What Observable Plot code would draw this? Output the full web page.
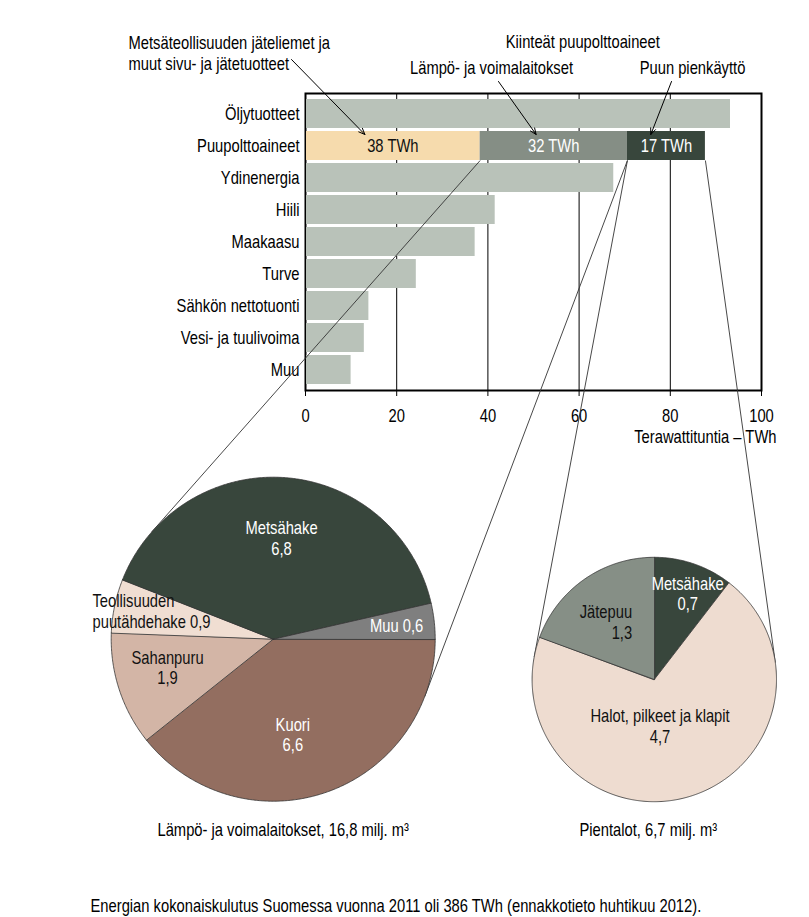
<!DOCTYPE html>
<html><head><meta charset="utf-8">
<script src="https://cdn.jsdelivr.net/npm/d3@7"></script>
<script src="https://cdn.jsdelivr.net/npm/@observablehq/plot@0.6"></script>
<style>
body{margin:0;background:#fff;}
#wrap{position:relative;width:809px;height:917px;}
#wrap svg{position:absolute;left:0;top:0;}
</style></head><body><div id="wrap"></div>
<script>
// ---------- DATA ----------
const categories = ["Öljytuotteet","Puupolttoaineet","Ydinenergia","Hiili","Maakaasu","Turve","Sähkön nettotuonti","Vesi- ja tuulivoima","Muu"];
const energyTWh = [93.2, 87.7, 67.6, 41.6, 37.2, 24.3, 13.9, 12.9, 10.0];
const woodParts = ["Metsäteollisuuden jäteliemet ja muut sivu- ja jätetuotteet","Lämpö- ja voimalaitokset","Puun pienkäyttö"];
const woodTWh = [38.3, 32.3, 17.1];
const xTicks = [0, 20, 40, 60, 80, 100];
const plantNames = ["Kuori","Sahanpuru","Teollisuuden\npuutähdehake","Metsähake","Muu"];
const plantValues = [6.6, 1.9, 0.9, 6.8, 0.6];
const houseNames = ["Metsähake","Halot, pilkeet ja klapit","Jätepuu"];
const houseValues = [0.7, 4.7, 1.3];
const axisTitle = "Terawattituntia – TWh";
const captionText = "Energian kokonaiskulutus Suomessa vuonna 2011 oli 386 TWh (ennakkotieto huhtikuu 2012).";
const annotTexts = ["Metsäteollisuuden jäteliemet ja\nmuut sivu- ja jätetuotteet","Lämpö- ja voimalaitokset","Puun pienkäyttö"];
const headerText = "Kiinteät puupolttoaineet";

// ---------- STYLE / LAYOUT ----------
const FONT = "'Liberation Sans Narrow','Arial Narrow','Liberation Sans',Arial,sans-serif";
const FS = 18;
const NARROW = 0.82; // horizontal condensing of glyphs (narrow face look)
const W = 809, H = 917;
const barGray = "#b9c2b9";
const woodFill = ["#f6dbad", "#858e85", "#38463c"];
const woodInk = ["#111", "#fff", "#fff"];
const plantFill = ["#936e60", "#d3b5a6", "#f0ded2", "#38463c", "#7f7f7f"];
const plantInk = ["#fff", "#111", "#111", "#fff", "#fff"];
const plantSep = ["\n", "\n", " ", "\n", " "];
const plantLab = [[0.554, 0.60, "middle"], [0.58, 0.675, "middle"], [0.35, 1.129, "start"], [0.503, 0.627, "middle"], [0.52, 0.766, "middle"]];
const houseFill = ["#38463c", "#eedcd0", "#868f86"];
const houseInk = ["#fff", "#111", "#111"];
const houseLab = [[0.564, 0.755, "middle"], [0.536, 0.383, "middle"], [0.70, 0.507, "end"]];

const fmt = v => v.toFixed(1).replace(".", ",");

// ---------- BAR CHART ----------
const barRows = categories.map((c, i) => ({category: c, value: energyTWh[i]})).filter(d => d.category !== "Puupolttoaineet");
const wood = woodParts.map((p, i) => ({part: p, value: woodTWh[i], category: "Puupolttoaineet", i}));

const chart = Plot.plot({
  width: W, height: H,
  marginLeft: 305, marginRight: 48, marginTop: 93, marginBottom: 527,
  style: {fontFamily: FONT, fontSize: FS + "px", background: "transparent", overflow: "visible"},
  x: {domain: [0, 100], axis: null},
  y: {domain: categories, axis: null, paddingInner: 0.084, paddingOuter: 0.182},
  color: {type: "identity"},
  marks: [
    Plot.ruleX(xTicks.slice(1, -1), {stroke: "#000", strokeWidth: 1}),
    Plot.frame({stroke: "#000", strokeWidth: 2}),
    Plot.barX(barRows, {x: "value", y: "category", fill: barGray}),
    Plot.barX(wood, Plot.stackX({x: "value", y: "category", fill: d => woodFill[d.i]})),
    Plot.ruleX([0], {stroke: "#000", strokeWidth: 1}),
    Plot.text(wood, Plot.stackX({x: "value", y: "category", text: d => `${Math.round(d.value)} TWh`, fill: d => woodInk[d.i], fontSize: FS})),
    Plot.axisX({ticks: xTicks, tickSize: 6, tickPadding: 13, fontSize: FS, label: null, anchor: "bottom", tickFormat: d => String(d)}),
    Plot.axisY({tickSize: 0, tickPadding: 6, fontSize: FS, label: null}),
    Plot.text([axisTitle], {x: () => 100, frameAnchor: "bottom", dy: 52, dx: 15, textAnchor: "end", fontSize: FS, text: d => d})
  ]
});

// ---------- OVERLAY (pies, connectors, annotations) ----------
const xs = chart.scale("x"), ys = chart.scale("y");
const bandTop = ys.apply("Puupolttoaineet");
const bandBottom = bandTop + ys.bandwidth;
const cum = [0]; woodTWh.forEach(v => cum.push(cum[cum.length - 1] + v));
const seg = woodTWh.map((v, i) => ({x1: xs.apply(cum[i]), x2: xs.apply(cum[i + 1])}));

const pieL = {cx: 272.7, cy: 638.7, r: 162, start: Math.PI / 2};
const pieR = {cx: 653.8, cy: 679, r: 122.2, start: 0};

function slices(pie, values) {
  return d3.pie().sort(null).value(d => d).startAngle(pie.start).endAngle(pie.start + 2 * Math.PI)(values);
}
function slicePoints(pie, s) {
  const pts = [{x: pie.cx, y: pie.cy}];
  const n = Math.max(2, Math.ceil((s.endAngle - s.startAngle) / (Math.PI / 360)));
  for (let k = 0; k <= n; k++) {
    const a = s.startAngle + (s.endAngle - s.startAngle) * k / n;
    pts.push({x: pie.cx + pie.r * Math.sin(a), y: pie.cy - pie.r * Math.cos(a)});
  }
  return pts;
}
function polar(pie, a, rf) {
  return {x: pie.cx + pie.r * rf * Math.sin(a), y: pie.cy - pie.r * rf * Math.cos(a)};
}
function tangent(px, py, pie, side) {
  const dx = pie.cx - px, dy = pie.cy - py;
  const d = Math.hypot(dx, dy);
  const phi = Math.atan2(dy, dx), th = Math.asin(pie.r / d), t = Math.sqrt(d * d - pie.r * pie.r);
  const c = [phi + th, phi - th].map(a => ({x: px + t * Math.cos(a), y: py + t * Math.sin(a)}));
  return side < 0 ? (c[0].x < c[1].x ? c[0] : c[1]) : (c[0].x > c[1].x ? c[0] : c[1]);
}

const sL = slices(pieL, plantValues), sR = slices(pieR, houseValues);
const pieMarks = [];
sL.forEach((s, i) => pieMarks.push(Plot.line(slicePoints(pieL, s), {x: "x", y: "y", fill: plantFill[i], stroke: "#333", strokeWidth: 0.8, curve: "linear-closed"})));
sR.forEach((s, i) => pieMarks.push(Plot.line(slicePoints(pieR, s), {x: "x", y: "y", fill: houseFill[i], stroke: "#333", strokeWidth: 0.8, curve: "linear-closed"})));

const pieLabels = [];
sL.forEach((s, i) => {
  const [f, rf, anchor] = plantLab[i];
  const p = polar(pieL, s.startAngle + (s.endAngle - s.startAngle) * f, rf);
  pieLabels.push({...p, text: plantNames[i] + plantSep[i] + fmt(plantValues[i]), fill: plantInk[i], anchor});
});
sR.forEach((s, i) => {
  const [f, rf, anchor] = houseLab[i];
  const p = polar(pieR, s.startAngle + (s.endAngle - s.startAngle) * f, rf);
  pieLabels.push({...p, text: houseNames[i] + "\n" + fmt(houseValues[i]), fill: houseInk[i], anchor});
});

const P1 = {x: seg[1].x1, y: bandBottom}, P2 = {x: seg[1].x2, y: bandBottom};
const P3 = {x: seg[2].x1, y: bandBottom}, P4 = {x: seg[2].x2, y: bandBottom};
const connectors = [
  [P1, tangent(P1.x, P1.y, pieL, -1)],
  [P2, tangent(P2.x, P2.y, pieL, 1)],
  [P3, tangent(P3.x, P3.y, pieR, -1)],
  [P4, tangent(P4.x, P4.y, pieR, 1)]
].map(([a, b]) => ({x1: a.x, y1: a.y, x2: b.x, y2: b.y}));

const annot = [
  {text: annotTexts[0], x: 128, y: 52.5, anchor: "start", from: [291, 59], frac: 0.34},
  {text: annotTexts[1], x: 491, y: 68, anchor: "middle", from: [498, 81], frac: 0.38},
  {text: annotTexts[2], x: 692, y: 68, anchor: "middle", from: [671, 81], frac: 0.30}
];
const arrows = annot.map((a, i) => ({x1: a.from[0], y1: a.from[1], x2: seg[i].x1 + (seg[i].x2 - seg[i].x1) * a.frac, y2: bandTop + 3}));
const textsTop = [...annot, {text: headerText, x: (seg[1].x1 + seg[2].x2) / 2 - 10, y: 42, anchor: "middle"}];

const pieCaps = [
  {text: `Lämpö- ja voimalaitokset, ${fmt(d3.sum(plantValues))} milj. m³`, x: pieL.cx + 10, y: pieL.cy + pieL.r + 29},
  {text: `Pientalot, ${fmt(d3.sum(houseValues))} milj. m³`, x: pieR.cx - 6, y: pieR.cy + pieR.r + 29}
];

const overlay = Plot.plot({
  width: W, height: H, margin: 0,
  style: {fontFamily: FONT, fontSize: FS + "px", background: "transparent", overflow: "visible"},
  x: {type: "identity", axis: null}, y: {type: "identity", axis: null},
  marks: [
    Plot.link(connectors, {x1: "x1", y1: "y1", x2: "x2", y2: "y2", stroke: "#333", strokeWidth: 0.9}),
    ...pieMarks,
    Plot.text(pieLabels.filter(d => d.anchor === "middle"), {x: "x", y: "y", text: "text", fill: d => d.fill, fontSize: FS, lineHeight: 1.15, textAnchor: "middle"}),
    Plot.text(pieLabels.filter(d => d.anchor === "start"), {x: "x", y: "y", text: "text", fill: d => d.fill, fontSize: FS, lineHeight: 1.15, textAnchor: "start"}),
    Plot.text(pieLabels.filter(d => d.anchor === "end"), {x: "x", y: "y", text: "text", fill: d => d.fill, fontSize: FS, lineHeight: 1.15, textAnchor: "end"}),
    Plot.arrow(arrows, {x1: "x1", y1: "y1", x2: "x2", y2: "y2", stroke: "#000", strokeWidth: 1, headLength: 10, headAngle: 45}),
    Plot.text(textsTop.filter(d => d.anchor === "start"), {x: "x", y: "y", text: "text", fill: "#000", fontSize: FS, lineHeight: 1.18, textAnchor: "start"}),
    Plot.text(textsTop.filter(d => d.anchor === "middle"), {x: "x", y: "y", text: "text", fill: "#000", fontSize: FS, textAnchor: "middle"}),
    Plot.text(pieCaps, {x: "x", y: "y", text: "text", fill: "#000", fontSize: FS, textAnchor: "middle"}),
    Plot.text([captionText], {x: () => 90, y: () => 906, text: d => d, fill: "#000", fontSize: FS, textAnchor: "start"})
  ]
});

// Condense glyphs horizontally around each text's own anchor point (narrow-face look).
// Only x needs handling: the vertical scale stays 1, so y / dy (often in em) are untouched.
function condense(svg) {
  for (const t of svg.querySelectorAll("text")) {
    const xa = t.getAttribute("x");
    let x = 0;
    if (xa != null && !/em$/.test(xa)) { x = parseFloat(xa) || 0; t.removeAttribute("x"); }
    const tr = t.getAttribute("transform") || "";
    t.setAttribute("transform", `${tr} translate(${x},0) scale(${NARROW},1)`);
  }
}
condense(chart); condense(overlay);

const wrap = document.getElementById("wrap");
wrap.appendChild(chart);
wrap.appendChild(overlay);
</script>
</body></html>
